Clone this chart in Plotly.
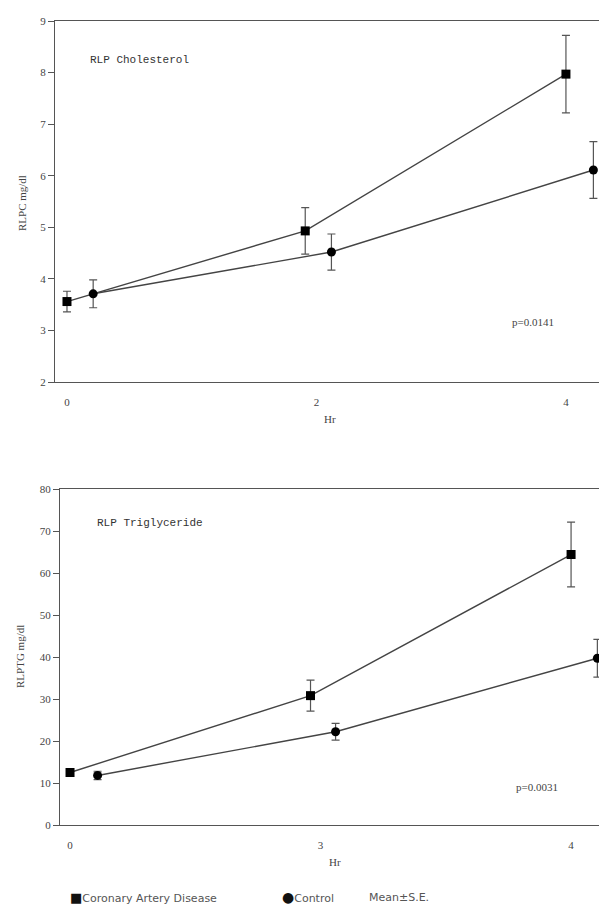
import plotly.graph_objects as go

# Top panel: RLP cholesterol (mg/dl)
hr_cad_top = [0.0, 1.91, 4.0]
hr_ctl_top = [0.21, 2.12, 4.22]
rlpc_cad = [3.56, 4.93, 7.97]
rlpc_cad_se = [0.2, 0.45, 0.75]
rlpc_ctl = [3.71, 4.52, 6.11]
rlpc_ctl_se = [0.27, 0.35, 0.55]

# Bottom panel: RLP triglyceride (mg/dl)
hr_cad_bot = [0.0, 1.92, 4.0]
hr_ctl_bot = [0.22, 2.12, 4.21]
rlptg_cad = [12.5, 30.8, 64.4]
rlptg_cad_se = [0.8, 3.7, 7.7]
rlptg_ctl = [11.8, 22.2, 39.7]
rlptg_ctl_se = [1.0, 2.0, 4.5]

x_tickvals = [0, 2, 4]
x_ticktext_top = ["0", "2", "4"]
x_ticktext_bot = ["0", "3", "4"]
y_ticks_top = [2, 3, 4, 5, 6, 7, 8, 9]
y_ticks_bot = [0, 10, 20, 30, 40, 50, 60, 70, 80]

W, H = 599, 907
LINE = "#444444"
ERR = "#555555"
serif = "Liberation Serif"
mono = "Liberation Mono"
sans = "DejaVu Sans"

fig = go.Figure()

def add_series(x, y, se, sym, xa, ya):
    fig.add_trace(go.Scatter(
        x=x, y=y, mode="lines+markers", xaxis=xa, yaxis=ya,
        line=dict(color=LINE, width=1.4),
        marker=dict(symbol=sym, size=9, color="black"),
        error_y=dict(type="data", array=se, visible=True, color=ERR, thickness=1.2, width=4),
        showlegend=False, cliponaxis=False))

add_series(hr_cad_top, rlpc_cad, rlpc_cad_se, "square", "x", "y")
add_series(hr_ctl_top, rlpc_ctl, rlpc_ctl_se, "circle", "x", "y")
add_series(hr_cad_bot, rlptg_cad, rlptg_cad_se, "square", "x2", "y2")
add_series(hr_ctl_bot, rlptg_ctl, rlptg_ctl_se, "circle", "x2", "y2")

axis_common = dict(showgrid=False, zeroline=False, showline=True, linecolor="#555555", linewidth=1.3,
                   tickfont=dict(family=serif, size=11, color="#444444"))

fig.update_layout(
    width=W, height=H, margin=dict(l=0, r=0, t=0, b=0, autoexpand=False),
    plot_bgcolor="white", paper_bgcolor="white",
    xaxis=dict(domain=[55 / W, 1.0], range=[-0.096, 4.265], anchor="y",
               tickvals=x_tickvals, ticktext=x_ticktext_top, ticks="", mirror=True,
               ticklabelstandoff=10, **axis_common),
    yaxis=dict(domain=[1 - 382 / H, 1 - 21 / H], range=[2, 9], anchor="x",
               tickvals=y_ticks_top, ticks="outside", ticklen=6, tickcolor="#555",
               **axis_common),
    xaxis2=dict(domain=[60 / W, 1.0], range=[-0.08, 4.223], anchor="y2",
                tickvals=x_tickvals, ticktext=x_ticktext_bot, ticks="", mirror=True,
                ticklabelstandoff=10, **axis_common),
    yaxis2=dict(domain=[1 - 825 / H, 1 - 489 / H], range=[0, 80], anchor="x2",
                tickvals=y_ticks_bot, ticks="outside", ticklen=6, tickcolor="#555",
                **axis_common),
)

ann = [
    dict(text="RLP Cholesterol", x=88 / W, y=1 - 60 / H, xanchor="left", yanchor="middle",
         font=dict(family=mono, size=11, color="#333")),
    dict(text="p=0.0141", x=533 / W, y=1 - 322 / H, xanchor="center", yanchor="middle",
         font=dict(family=serif, size=11, color="#444")),
    dict(text="RLPC mg/dl", x=22 / W, y=1 - 203 / H, xanchor="center", yanchor="middle", textangle=-90,
         font=dict(family=serif, size=11, color="#444")),
    dict(text="Hr", x=330 / W, y=1 - 419 / H, xanchor="center", yanchor="middle",
         font=dict(family=serif, size=11, color="#444")),
    dict(text="RLP Triglyceride", x=95 / W, y=1 - 523 / H, xanchor="left", yanchor="middle",
         font=dict(family=mono, size=11, color="#333")),
    dict(text="p=0.0031", x=537 / W, y=1 - 787 / H, xanchor="center", yanchor="middle",
         font=dict(family=serif, size=11, color="#444")),
    dict(text="RLPTG mg/dl", x=20 / W, y=1 - 657 / H, xanchor="center", yanchor="middle", textangle=-90,
         font=dict(family=serif, size=11, color="#444")),
    dict(text="Hr", x=335 / W, y=1 - 862 / H, xanchor="center", yanchor="middle",
         font=dict(family=serif, size=11, color="#444")),
    dict(text="<span style='font-size:13px;color:#111'>\u25a0</span>Coronary Artery Disease",
         x=68 / W, y=1 - 897 / H, xanchor="left", yanchor="middle",
         font=dict(family=sans, size=11, color="#555")),
    dict(text="<span style='font-size:14px;color:#111'>\u25cf</span>Control",
         x=280 / W, y=1 - 897 / H, xanchor="left", yanchor="middle",
         font=dict(family=sans, size=11, color="#555")),
    dict(text="Mean\u00b1S.E.", x=367 / W, y=1 - 897 / H, xanchor="left", yanchor="middle",
         font=dict(family=sans, size=11, color="#555")),
]
for a in ann:
    a.update(xref="paper", yref="paper", showarrow=False)
fig.update_layout(annotations=ann)

fig.write_html("out.html", config={"displayModeBar": False},
               post_script="document.body.style.margin='0';document.body.style.overflow='hidden';")
